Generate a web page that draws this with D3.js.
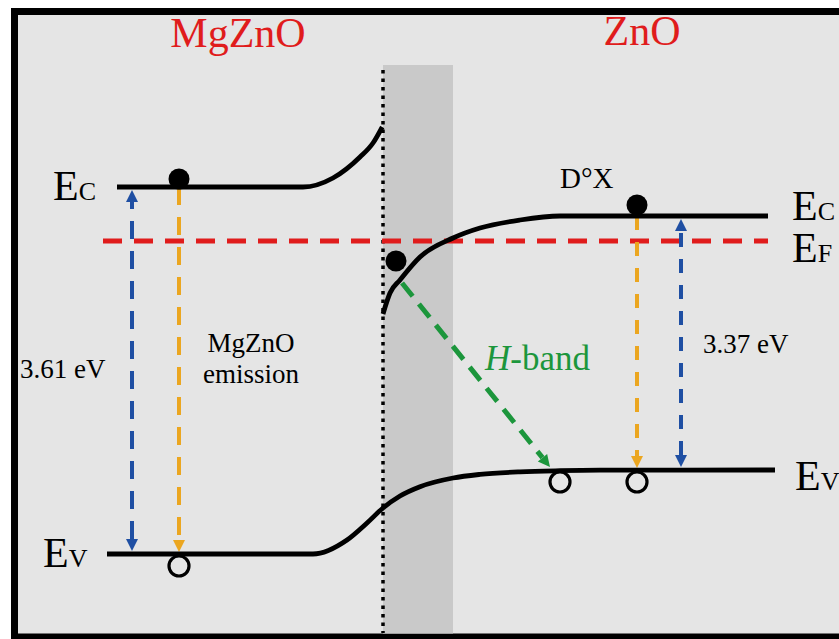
<!DOCTYPE html>
<html><head><meta charset="utf-8">
<script src="https://cdn.jsdelivr.net/npm/d3@7"></script>
<style>html,body{margin:0;padding:0;background:#fff;} svg{display:block;} text{font-family:"Liberation Serif","DejaVu Serif",serif;}</style>
</head><body>
<script>
// ---------- data (position in a.u., interface at 0; energy in a.u., E_F = 0) ----------
const regionNames = ["MgZnO", "ZnO"];
const leftEc  = [[-66.5,10.8],[-20,10.8],[-12.5,12.6],[-5.75,16.8],[-2.5,19.6],[-0.2,22.8]];
const rightEc = [[0,-14.6],[1.75,-10.4],[4.25,-7.8],[9.25,-3.2],[17.5,0.6],[24.25,2.6],[34.25,4.2],[44.25,5],[96.25,5]];
const valenceBand = [[-69,-62.6],[-17.5,-62.6],[-9,-59.8],[-4,-56.4],[0,-53.4],[4.25,-51],[9.25,-49.14],[17.5,-47.4],[24.25,-46.68],[34.25,-46.16],[44.25,-45.94],[54.25,-45.84],[98,-45.8]];
const fermiLevel = [[-70,0],[96.25,0]];
const interlayer = [0, 17.5];            // position range of the interface layer
const gapArrows = [[-62.75,-62.6,10.8],[74.5,-45.8,5]];       // x, Ev, Ec
const emissionArrows = [[-51,10.8,-62.6],[63.5,5,-45.8]];     // x, from, to
const hBandArrow = [[4.75,-8.4],[41.75,-45.2]];
const electrons = [[-51,12.4],[3.25,-4],[63.5,7.2]];
const holes = [[-51,-65],[44.25,-48.2],[63.5,-48.2]];
const gapLabels = ["3.61 eV","3.37 eV"];
const emissionLabel = ["MgZnO","emission"];
const hBandLabel = ["H","-band"];
const dxLabel = "D°X";
const bandSubs = ["C","F","V"];

// ---------- setup ----------
const W = 839, H = 639;
const svg = d3.select("body").append("svg").attr("width", W).attr("height", H);
const x = d3.scaleLinear().domain([-100,100]).range([-17,783]);
const y = d3.scaleLinear().domain([-80,40]).range([641,41]);
const serif = '"Liberation Serif","DejaVu Serif",serif';
const BLUE = "#1f4fa3", ORANGE = "#eba620", GREEN = "#1c963c", RED = "#e01c1c";

function txt(px, py, size){
  return svg.append("text").attr("x",px).attr("y",py).style("font-family",serif).style("font-size",size+"px");
}

// frame
svg.append("rect").attr("x",14.5).attr("y",11.5).attr("width",900).attr("height",625.5)
  .attr("fill","#e5e5e5").attr("stroke","#000").attr("stroke-width",7);

// interface layer
svg.append("rect").attr("x", x(interlayer[0])).attr("y", 65)
  .attr("width", x(interlayer[1]) - x(interlayer[0])).attr("height", 633.5 - 65)
  .attr("fill", "#c9c9c9");
svg.append("line").attr("x1", x(0)).attr("x2", x(0)).attr("y1", 70).attr("y2", 633)
  .attr("stroke","#000").attr("stroke-width",3.5).attr("stroke-dasharray","3.5,5");

// titles
txt(238,47,42).attr("text-anchor","middle").attr("fill",RED).text(regionNames[0]);
txt(642,45,42).attr("text-anchor","middle").attr("fill",RED).text(regionNames[1]);

// Fermi level
svg.append("path").attr("d", d3.line().x(d=>x(d[0])).y(d=>y(d[1]))(fermiLevel))
  .attr("fill","none").attr("stroke",RED).attr("stroke-width",5).attr("stroke-dasharray","19,12");

// arrows
function arrow(x1,y1,x2,y2,color,dash,width,startHead,endHead){
  const dx = x2-x1, dy = y2-y1, L = Math.hypot(dx,dy), ux = dx/L, uy = dy/L;
  const hl = 12, hw = 6;
  const sx = startHead ? x1 + ux*hl : x1, sy = startHead ? y1 + uy*hl : y1;
  const ex = endHead ? x2 - ux*hl : x2, ey = endHead ? y2 - uy*hl : y2;
  svg.append("line").attr("x1",sx).attr("y1",sy).attr("x2",ex).attr("y2",ey)
    .attr("stroke",color).attr("stroke-width",width).attr("stroke-dasharray",dash);
  function head(tx,ty,vx,vy){
    const bx = tx - vx*hl, by = ty - vy*hl;
    svg.append("path").attr("d",`M${tx},${ty}L${bx - vy*hw},${by + vx*hw}L${bx + vy*hw},${by - vx*hw}Z`).attr("fill",color);
  }
  if (endHead) head(x2,y2,ux,uy);
  if (startHead) head(x1,y1,-ux,-uy);
}
gapArrows.forEach((a,i)=>{
  arrow(x(a[0]), y(a[1]) - 3, x(a[0]), y(a[2]) + 3, BLUE, i===0 ? "18,12" : "14,12", 4, true, true);
});
emissionArrows.forEach((a,i)=>{
  arrow(x(a[0]), y(a[1]), x(a[0]), y(a[2]) - 2, ORANGE, i===0 ? "18,12" : "14,12", 4, false, true);
});
arrow(x(hBandArrow[0][0]), y(hBandArrow[0][1]), x(hBandArrow[1][0]), y(hBandArrow[1][1]), GREEN, "17,10", 5, false, true);

// bands
const band = d3.line().x(d=>x(d[0])).y(d=>y(d[1])).curve(d3.curveMonotoneX);
[leftEc, rightEc, valenceBand].forEach(b=>{
  svg.append("path").attr("d", band(b)).attr("fill","none").attr("stroke","#000")
    .attr("stroke-width",4.8).attr("stroke-linecap","butt");
});

// carriers
svg.selectAll("circle.e").data(electrons).enter().append("circle").attr("class","e")
  .attr("cx",d=>x(d[0])).attr("cy",d=>y(d[1])).attr("r",10.5).attr("fill","#000");
svg.selectAll("circle.h").data(holes).enter().append("circle").attr("class","h")
  .attr("cx",d=>x(d[0])).attr("cy",d=>y(d[1])).attr("r",10).attr("fill","none")
  .attr("stroke","#000").attr("stroke-width",3.2);

// band labels
function bandLabel(px, py, sub){
  const t = txt(px,py,42).attr("fill","#000");
  t.append("tspan").text("E");
  t.append("tspan").style("font-size","26px").text(sub);
}
bandLabel(53, y(leftEc[0][1]) + 13, bandSubs[0]);
bandLabel(43, y(valenceBand[0][1]) + 13, bandSubs[2]);
bandLabel(792, y(rightEc[rightEc.length-1][1]) + 4, bandSubs[0]);
bandLabel(792, y(fermiLevel[1][1]) + 21, bandSubs[1]);
bandLabel(795, y(valenceBand[valenceBand.length-1][1]) + 20, bandSubs[2]);

// annotations
txt(20,378,27).text(gapLabels[0]);
txt(703,353,27).text(gapLabels[1]);
emissionLabel.forEach((s,i)=>{
  txt(251,352 + i*31,27).attr("text-anchor","middle").text(s);
});
const hb = txt(485,370,35).attr("fill",GREEN);
hb.append("tspan").style("font-style","italic").text(hBandLabel[0]);
hb.append("tspan").text(hBandLabel[1]);
txt(560,188,29).text(dxLabel);
</script>
</body></html>
